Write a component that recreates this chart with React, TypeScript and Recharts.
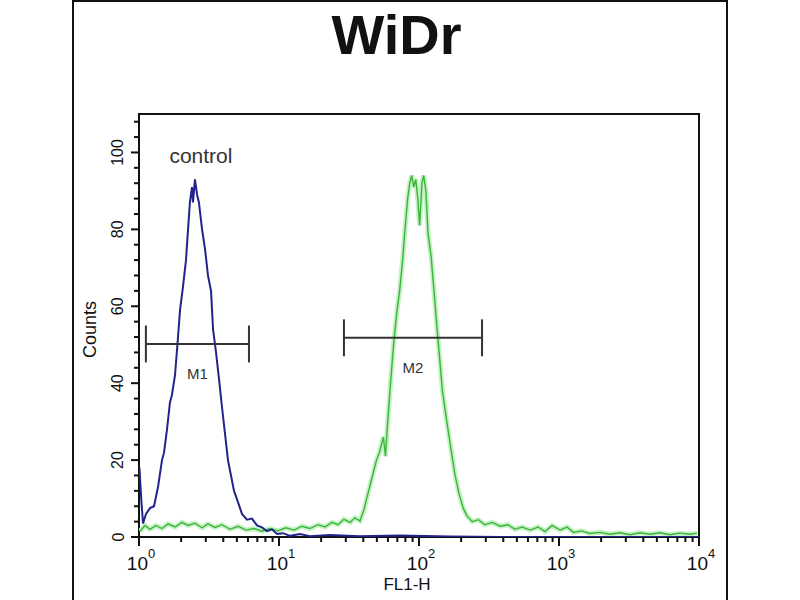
import { ComposedChart, Line, XAxis, YAxis, ReferenceArea, ReferenceLine, ReferenceDot, Label } from 'recharts';

const FONT = '"Liberation Sans", Arial, Helvetica, sans-serif';
const BLUE = '#23238c';
const GREEN = '#3cb43c';
const GREEN_GLOW = '#c4f2c4';
const INK = '#111';

// FL1-H intensity (log axis) and counts
const CONTROL_X = [
  1.008, 1.033, 1.068, 1.122, 1.198, 1.28, 1.367, 1.46, 1.51, 1.585, 1.664, 1.72, 1.807, 1.9, 1.963,
  2.06, 2.166, 2.24, 2.31, 2.39, 2.43, 2.51, 2.6, 2.68, 2.82, 2.96, 3.11, 3.27, 3.38, 3.55, 3.73,
  3.91, 4.11, 4.32, 4.54, 4.77, 5.1, 5.44, 5.9, 6.41, 6.97, 7.56, 8.2, 8.91, 9.68, 10.7, 12, 14.1,
  16.6, 23.1, 37.9, 73.1, 166, 379, 1000, 10000,
];
const CONTROL_Y = [
  18, 11, 3.5, 6, 7.5, 8, 13, 20, 22, 28, 35, 37, 42, 52, 59,
  65, 72, 80, 87, 91, 87, 93, 89, 87, 80, 75, 68, 64, 54, 48, 41,
  34, 27, 20, 16, 12, 9, 6, 4.5, 4.8, 3, 2.5, 1.5, 2, 0.8, 1, 0.3, 0.8,
  0.2, 0.5, 0.2, 0.4, 0.1, 0, 0, 0,
];

const SAMPLE_X = [
  1.016, 1.104, 1.198, 1.32, 1.46, 1.61, 1.81, 2.03, 2.24, 2.51, 2.82, 3.11, 3.49, 3.91, 4.47, 5.1,
  5.81, 6.63, 7.56, 8.62, 9.83, 11.2, 12.8, 14.6, 16.6, 19, 21.3, 23.9, 26.4, 29.1, 32.2, 34.8,
  37.9, 40.4, 42.3, 44.4, 46.6, 49.7, 52.2, 55.7, 57.6, 59.5, 62.6, 65.8, 69.2, 72.7, 76.4, 79,
  83, 85.9, 88.7, 91.7, 94.8, 98, 101, 105, 108, 112, 116, 122, 128, 134, 140, 147, 158, 169,
  181, 194, 207, 220, 240, 266, 295, 334, 380, 432, 484, 545, 623, 709, 794, 893, 1020, 1140,
  1270, 1450, 1660, 1960, 2310, 2720, 3210, 3780, 4460, 5260, 6200, 7310, 8620, 9690,
];
const SAMPLE_Y = [
  1.5, 3, 2, 3, 2.2, 3.4, 2.6, 3.8, 3, 3.6, 2.4, 3.4, 2.5, 3.2, 2, 2.8,
  1.8, 2.2, 1.5, 2.2, 1.6, 2.4, 1.8, 2.8, 2.2, 3.2, 2.6, 3.8, 3.2, 4.6, 3.8, 5,
  4.2, 7, 10, 13, 16, 20, 22, 26, 21, 29, 40, 50, 58, 64, 72, 79,
  88, 92, 94, 91, 93, 88, 81, 92, 94, 90, 79, 73, 64, 55, 47, 38, 30, 23,
  16, 11, 7.5, 5.5, 4, 4.5, 3.2, 3.8, 2.8, 3.2, 2, 2.6, 1.8, 2.6, 1.4, 3, 1.8, 2.6,
  1.2, 1.6, 0.9, 1.2, 0.7, 1.1, 0.6, 1.1, 0.7, 1.1, 0.6, 1, 0.7, 1,
];

const X_MAJOR = [1, 10, 100, 1000, 10000];
const X_TICKS = [
  1, 2, 3, 4, 5, 6, 7, 8, 9,
  10, 20, 30, 40, 50, 60, 70, 80, 90,
  100, 200, 300, 400, 500, 600, 700, 800, 900,
  1000, 2000, 3000, 4000, 5000, 6000, 7000, 8000, 9000,
  10000,
];
const Y_TICKS = [0, 4, 8, 12, 16, 20, 24, 28, 32, 36, 40, 44, 48, 52, 56, 60, 64, 68, 72, 76, 80, 84, 88, 92, 96, 100, 104, 108];

// gates: name, lower bound, upper bound, drawn at count level
const GATE_NAMES = ['M1', 'M2'];
const GATE_FROM = [1.12, 29.1];
const GATE_TO = [6.1, 282];
const GATE_LEVEL = [50.2, 51.8];

const controlData = CONTROL_X.map((x, i) => ({ x, y: CONTROL_Y[i] }));
const sampleData = SAMPLE_X.map((x, i) => ({ x, y: SAMPLE_Y[i] }));

function XTick({ x, y, payload }: any) {
  const v = payload.value;
  const major = X_MAJOR.includes(v);
  return (
    <g>
      <line x1={x} x2={x} y1={y} y2={y + (major ? 9 : 5)} stroke={INK} strokeWidth={2} />
      {major && (
        <text x={x + 2} y={y + 33} textAnchor="middle" fontFamily={FONT} fontSize={19} fill={INK}>
          10
          <tspan dy={-12} fontSize={13}>
            {Math.round(Math.log10(v))}
          </tspan>
        </text>
      )}
    </g>
  );
}

function YTick({ x, y, payload }: any) {
  const v = payload.value;
  const major = v % 20 === 0;
  const tx = x - 21;
  return (
    <g>
      <line x1={x - (major ? 8 : 5)} x2={x} y1={y} y2={y} stroke={INK} strokeWidth={2} />
      {major && (
        <text
          x={tx}
          y={y}
          transform={`rotate(-90, ${tx}, ${y})`}
          textAnchor="middle"
          dominantBaseline="central"
          fontFamily={FONT}
          fontSize={16}
          fill={INK}
        >
          {v}
        </text>
      )}
    </g>
  );
}

export default function App() {
  return (
    <div style={{ position: 'fixed', left: 0, top: 0, width: 800, height: 600, overflow: 'hidden', background: '#fff' }}>
      <div
        style={{
          position: 'absolute',
          left: 72,
          top: 0,
          width: 656,
          height: 640,
          border: `2px solid ${INK}`,
          boxSizing: 'border-box',
        }}
      />
      <div
        style={{
          position: 'absolute',
          left: 0,
          top: 7,
          width: 793,
          textAlign: 'center',
          fontFamily: FONT,
          fontWeight: 'bold',
          fontSize: 56,
          lineHeight: '56px',
          color: INK,
        }}
      >
        WiDr
      </div>
      <div style={{ position: 'absolute', left: 0, top: 0 }}>
        <ComposedChart width={800} height={600} margin={{ top: 114, right: 101, bottom: 0, left: 0 }}>
          <XAxis
            dataKey="x"
            type="number"
            scale="log"
            domain={[1, 10000]}
            allowDataOverflow
            ticks={X_TICKS}
            interval={0}
            tick={<XTick />}
            tickLine={false}
            axisLine={false}
            tickSize={0}
            tickMargin={0}
            height={63}
          >
            <Label
              content={({ viewBox }: any) => (
                <text
                  x={viewBox.x + viewBox.width / 2 - 12}
                  y={viewBox.y + 53}
                  textAnchor="middle"
                  fontFamily={FONT}
                  fontSize={17}
                  fill={INK}
                >
                  FL1-H
                </text>
              )}
            />
          </XAxis>
          <YAxis
            type="number"
            domain={[0, 110]}
            allowDataOverflow
            ticks={Y_TICKS}
            interval={0}
            tick={<YTick />}
            tickLine={false}
            axisLine={false}
            tickSize={0}
            tickMargin={0}
            width={139}
          >
            <Label
              content={({ viewBox }: any) => {
                const cx = viewBox.x + viewBox.width - 49;
                const cy = viewBox.y + viewBox.height / 2 + 4;
                return (
                  <text
                    x={cx}
                    y={cy}
                    transform={`rotate(-90, ${cx}, ${cy})`}
                    textAnchor="middle"
                    dominantBaseline="central"
                    fontFamily={FONT}
                    fontSize={18}
                    fill={INK}
                  >
                    Counts
                  </text>
                );
              }}
            />
          </YAxis>
          <ReferenceArea x1={1} x2={10000} y1={0} y2={110} fill="none" stroke={INK} strokeWidth={2} ifOverflow="visible" />
          <Line data={sampleData} dataKey="y" type="linear" stroke={GREEN_GLOW} strokeWidth={5} dot={false} isAnimationActive={false} />
          <Line data={sampleData} dataKey="y" type="linear" stroke={GREEN} strokeWidth={1.4} dot={false} isAnimationActive={false} />
          <Line data={controlData} dataKey="y" type="linear" stroke={BLUE} strokeWidth={2} dot={false} isAnimationActive={false} />
          {GATE_NAMES.map((name, i) => (
            <ReferenceLine
              key={`${name}-bar`}
              segment={[
                { x: GATE_FROM[i], y: GATE_LEVEL[i] },
                { x: GATE_TO[i], y: GATE_LEVEL[i] },
              ]}
              stroke="#333"
              strokeWidth={2}
            />
          ))}
          {GATE_NAMES.map((name, i) =>
            [GATE_FROM[i], GATE_TO[i]].map((edge, j) => (
              <ReferenceLine
                key={`${name}-cap-${j}`}
                segment={[
                  { x: edge, y: GATE_LEVEL[i] - 4.8 },
                  { x: edge, y: GATE_LEVEL[i] + 4.8 },
                ]}
                stroke="#333"
                strokeWidth={2}
              />
            ))
          )}
          {GATE_NAMES.map((name, i) => (
            <ReferenceDot
              key={`${name}-label`}
              x={Math.sqrt(GATE_FROM[i] * GATE_TO[i])}
              y={GATE_LEVEL[i] - 7.8}
              r={0}
              stroke="none"
              label={{ value: name, position: 'center', fill: '#333', fontSize: 15, fontFamily: FONT }}
            />
          ))}
          <ReferenceDot
            x={2.77}
            y={99.3}
            r={0}
            stroke="none"
            label={{ value: 'control', position: 'center', fill: '#333', fontSize: 21, fontFamily: FONT }}
          />
        </ComposedChart>
      </div>
    </div>
  );
}
